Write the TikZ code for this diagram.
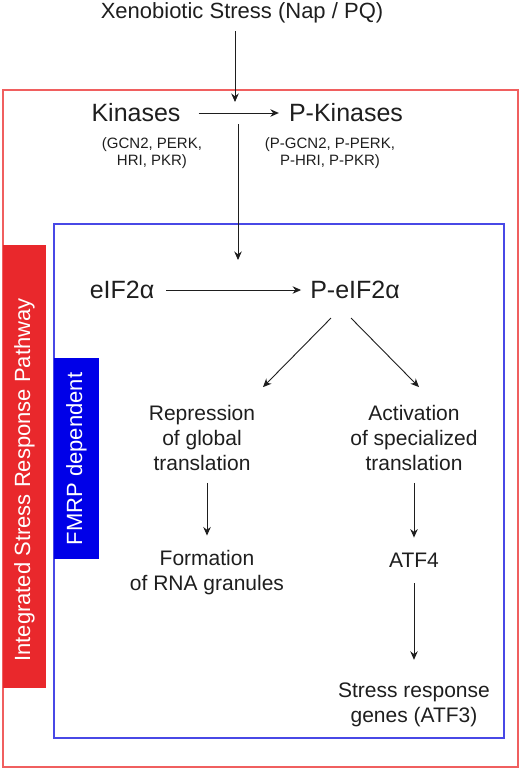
\documentclass[tikz,border=0pt]{standalone}
\usepackage{fontspec}
\setmainfont{Liberation Sans}
\usetikzlibrary{arrows.meta}
\definecolor{isrred}{RGB}{233,40,44}
\definecolor{boxred}{RGB}{240,95,95}
\definecolor{fmrpblue}{RGB}{0,0,232}
\definecolor{boxblue}{RGB}{72,72,230}
\definecolor{ink}{RGB}{30,30,30}

\begin{document}
\begin{tikzpicture}[x=1pt, y=-1pt, arr/.style={-{Stealth[length=8.5pt,width=7.5pt]}, line width=0.9pt, draw=ink}, big/.style={font=\fontsize{25}{30}\selectfont, text=ink, inner sep=0pt}, txt/.style={font=\fontsize{21}{25}\selectfont, text=ink, align=center, inner sep=0pt}, small/.style={font=\fontsize{15}{17}\selectfont, text=ink, align=center, inner sep=0pt}, bartext/.style={font=\fontsize{22}{26}\selectfont, text=white, rotate=90, inner sep=0pt}]

\useasboundingbox (0,0) rectangle (520,771);
% frames and side bars
\draw[boxred, line width=1.3pt] (3,90) rectangle (518,767); \draw[boxblue, line width=1.3pt] (54,224) rectangle (504,738);
\fill[isrred] (3,245) rectangle (46,688); \node[bartext] (isr) at (24.5,480) {Integrated Stress Response Pathway};
\fill[fmrpblue] (54,358) rectangle (99,559); \node[bartext] (fmrp) at (76.5,459) {FMRP dependent};

% kinase step
\node[txt, font=\fontsize{22}{26}\selectfont] (xs) at (242,13) {Xenobiotic Stress (Nap / PQ)};
\node[big] (kin) at (136,113) {Kinases}; \node[big] (pkin) at (346,113) {P-Kinases};
\node[small] (kinsub) at (152,153) {(GCN2, PERK,\\HRI, PKR)}; \node[small] (pkinsub) at (330,153) {(P-GCN2, P-PERK,\\P-HRI, P-PKR)};
\coordinate (hit) at (235,102); \coordinate (down1) at (238,124); \coordinate (down2) at (238,260);
\draw[arr, shorten <=8pt] (xs.south -| hit) -- (hit); \draw[arr, shorten <=18pt, shorten >=10pt] (kin) -- (pkin); \draw[arr] (down1) -- (down2);

% eIF2a and branches
\node[big] (eif) at (122,290) {eIF2α}; \node[big] (peif) at (355,290) {P-eIF2α};
\draw[arr, shorten <=12pt, shorten >=9pt] (eif) -- (peif);
\node[txt] (rep) at (202,438) {Repression\\of global\\translation}; \node[txt] (act) at (414,438) {Activation\\of specialized\\translation};
\draw[arr] ([xshift=-24pt,yshift=-19pt]peif.south) -- ([xshift=61pt,yshift=18pt]rep.north); \draw[arr] ([xshift=-4pt,yshift=-19pt]peif.south) -- ([xshift=5pt,yshift=18pt]act.north);
\node[txt] (gran) at (207,573) {Formation\\of RNA granules}; \node[txt] (atf4) at (414,560) {ATF4}; \node[txt] (genes) at (414,705) {Stress response\\genes (ATF3)};
\draw[arr, shorten <=12pt, shorten >=15pt] (rep.south -| gran) -- (gran.north); \draw[arr, shorten <=12pt, shorten >=15pt] (act.south) -- (atf4.north);
\draw[arr, shorten <=16pt, shorten >=23pt] (atf4.south) -- (genes.north);
\end{tikzpicture}
\end{document}
